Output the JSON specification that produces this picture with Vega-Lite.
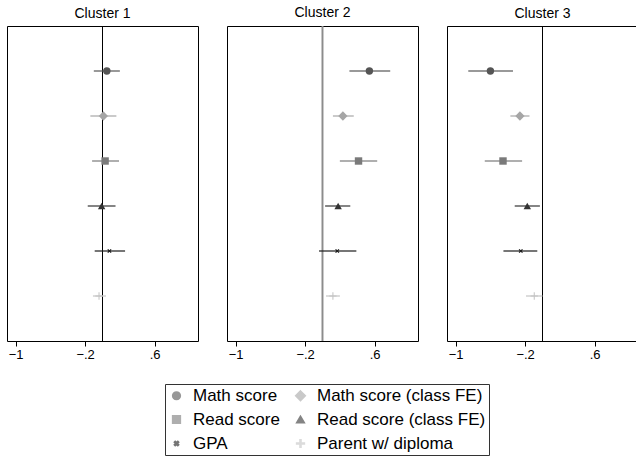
{
  "$schema": "https://vega.github.io/schema/vega-lite/v6.json",
  "padding": {"top": 5, "left": 6, "right": 0, "bottom": 0},
  "spacing": 27,
  "config": {
    "font": "Liberation Sans",
    "view": {"stroke": "#000", "strokeWidth": 1},
    "title": {"fontSize": 14, "fontWeight": "normal", "font": "Liberation Sans", "color": "#000", "offset": 5},
    "axisX": {
      "title": null,
      "labelExpr": "datum.value === 0 ? '0' : (datum.value < 0 ? '\u2212' : '') + replace(format(abs(datum.value), '~g'), '0.', '.')",
      "grid": false, "domain": false, "tickColor": "#000", "tickSize": 5,
      "labelColor": "#000", "labelFontSize": 13, "labelFont": "Liberation Sans",
      "labelOverlap": false, "labelFlush": false, "labelPadding": 2
    }
  },
  "data": {
    "values": [
      {"cluster": "Cluster 1", "variable": "Math score", "est": 0.05, "lo": -0.10, "hi": 0.20},
      {"cluster": "Cluster 1", "variable": "Math score (class FE)", "est": 0.01, "lo": -0.14, "hi": 0.16},
      {"cluster": "Cluster 1", "variable": "Read score", "est": 0.03, "lo": -0.12, "hi": 0.19},
      {"cluster": "Cluster 1", "variable": "Read score (class FE)", "est": -0.01, "lo": -0.17, "hi": 0.15},
      {"cluster": "Cluster 1", "variable": "GPA", "est": 0.08, "lo": -0.09, "hi": 0.26},
      {"cluster": "Cluster 1", "variable": "Parent w/ diploma", "est": -0.04, "lo": -0.11, "hi": 0.04},
      {"cluster": "Cluster 2", "variable": "Math score", "est": 0.54, "lo": 0.31, "hi": 0.78},
      {"cluster": "Cluster 2", "variable": "Math score (class FE)", "est": 0.235, "lo": 0.12, "hi": 0.36},
      {"cluster": "Cluster 2", "variable": "Read score", "est": 0.415, "lo": 0.20, "hi": 0.63},
      {"cluster": "Cluster 2", "variable": "Read score (class FE)", "est": 0.18, "lo": 0.03, "hi": 0.32},
      {"cluster": "Cluster 2", "variable": "GPA", "est": 0.17, "lo": -0.04, "hi": 0.39},
      {"cluster": "Cluster 2", "variable": "Parent w/ diploma", "est": 0.12, "lo": 0.04, "hi": 0.20},
      {"cluster": "Cluster 3", "variable": "Math score", "est": -0.60, "lo": -0.855, "hi": -0.34},
      {"cluster": "Cluster 3", "variable": "Math score (class FE)", "est": -0.26, "lo": -0.37, "hi": -0.15},
      {"cluster": "Cluster 3", "variable": "Read score", "est": -0.455, "lo": -0.665, "hi": -0.235},
      {"cluster": "Cluster 3", "variable": "Read score (class FE)", "est": -0.175, "lo": -0.32, "hi": -0.03},
      {"cluster": "Cluster 3", "variable": "GPA", "est": -0.25, "lo": -0.45, "hi": -0.06},
      {"cluster": "Cluster 3", "variable": "Parent w/ diploma", "est": -0.095, "lo": -0.19, "hi": 0.0}
    ]
  },
  "hconcat": [
    {
      "width": 191, "height": 315, "title": "Cluster 1",
      "transform": [{"filter": "datum.cluster === 'Cluster 1'"}],
      "layer": [
        {"mark": {"type": "rule", "color": "#000", "strokeWidth": 1}, "encoding": {"x": {"datum": 0}}},
        {
          "mark": {"type": "rule", "strokeWidth": 2, "opacity": 0.6},
          "encoding": {
            "x": {"field": "lo", "type": "quantitative", "scale": {"domain": [-1.1, 1.1], "nice": false, "zero": false},
              "axis": {"values": [-1, -0.8, -0.6, -0.4, -0.2, 0, 0.2, 0.4, 0.6, 0.8, 1], "labelOverlap": false, "labelFlush": false}},
            "x2": {"field": "hi"},
            "y": {"field": "variable", "type": "nominal", "scale": {"type": "point", "padding": 1, "domain": ["Math score", "Math score (class FE)", "Read score", "Read score (class FE)", "GPA", "Parent w/ diploma"]}, "axis": null},
            "color": {"field": "variable", "type": "nominal", "title": null}
          }
        },
        {
          "mark": {"type": "point", "filled": true, "opacity": 1, "size": 55},
          "encoding": {
            "x": {"field": "est", "type": "quantitative"},
            "y": {"field": "variable", "type": "nominal"},
            "color": {
              "field": "variable", "type": "nominal", "title": null,
              "scale": {
                "domain": ["Math score", "Math score (class FE)", "Read score", "Read score (class FE)", "GPA", "Parent w/ diploma"],
                "range": ["#555555", "#a6a6a6", "#7a7a7a", "#333333", "#1a1a1a", "#c4c4c4"]
              },
              "legend": {
                "orient": "none", "legendX": 158, "legendY": 358, "columns": 2, "direction": "horizontal",
                "strokeColor": "#333", "padding": 3, "labelFontSize": 17, "labelFont": "Liberation Sans",
                "labelColor": "#000", "symbolSize": 60, "labelOffset": 8, "rowPadding": 6, "columnPadding": 12,
                "labelLimit": 300, "symbolOpacity": 1
              }
            },
            "shape": {
              "field": "variable", "type": "nominal", "title": null,
              "scale": {
                "domain": ["Math score", "Math score (class FE)", "Read score", "Read score (class FE)", "GPA", "Parent w/ diploma"],
                "range": ["circle", "M0,-1.25L1.25,0L0,1.25L-1.25,0Z", "square", "triangle-up",
                  "M0.34,-0.57L0.57,-0.34L0.23,0L0.57,0.34L0.34,0.57L0,0.23L-0.34,0.57L-0.57,0.34L-0.23,0L-0.57,-0.34L-0.34,-0.57L0,-0.23Z",
                  "M-0.14,-1L0.14,-1L0.14,-0.14L1,-0.14L1,0.14L0.14,0.14L0.14,1L-0.14,1L-0.14,0.14L-1,0.14L-1,-0.14L-0.14,-0.14Z"]
              },
              "legend": {
                "orient": "none", "legendX": 158, "legendY": 358, "columns": 2, "direction": "horizontal",
                "strokeColor": "#333", "padding": 3, "labelFontSize": 17, "labelFont": "Liberation Sans",
                "labelColor": "#000", "symbolSize": 60, "labelOffset": 8, "rowPadding": 6, "columnPadding": 12,
                "labelLimit": 300, "symbolOpacity": 1
              }
            }
          }
        }
      ]
    },
    {
      "width": 191, "height": 315, "title": "Cluster 2",
      "transform": [{"filter": "datum.cluster === 'Cluster 2'"}],
      "layer": [
        {"mark": {"type": "rule", "color": "#8c8c8c", "strokeWidth": 1.2}, "encoding": {"x": {"datum": 0}}},
        {
          "mark": {"type": "rule", "strokeWidth": 2, "opacity": 0.6},
          "encoding": {
            "x": {"field": "lo", "type": "quantitative", "scale": {"domain": [-1.1, 1.1], "nice": false, "zero": false},
              "axis": {"values": [-1, -0.8, -0.6, -0.4, -0.2, 0, 0.2, 0.4, 0.6, 0.8, 1], "labelOverlap": false, "labelFlush": false}},
            "x2": {"field": "hi"},
            "y": {"field": "variable", "type": "nominal", "scale": {"type": "point", "padding": 1, "domain": ["Math score", "Math score (class FE)", "Read score", "Read score (class FE)", "GPA", "Parent w/ diploma"]}, "axis": null},
            "color": {"field": "variable", "type": "nominal", "title": null}
          }
        },
        {
          "mark": {"type": "point", "filled": true, "opacity": 1, "size": 55},
          "encoding": {
            "x": {"field": "est", "type": "quantitative"},
            "y": {"field": "variable", "type": "nominal"},
            "color": {"field": "variable", "type": "nominal", "title": null},
            "shape": {"field": "variable", "type": "nominal", "title": null}
          }
        }
      ]
    },
    {
      "width": 191, "height": 315, "title": "Cluster 3",
      "transform": [{"filter": "datum.cluster === 'Cluster 3'"}],
      "layer": [
        {"mark": {"type": "rule", "color": "#000", "strokeWidth": 1}, "encoding": {"x": {"datum": 0}}},
        {
          "mark": {"type": "rule", "strokeWidth": 2, "opacity": 0.6},
          "encoding": {
            "x": {"field": "lo", "type": "quantitative", "scale": {"domain": [-1.1, 1.1], "nice": false, "zero": false},
              "axis": {"values": [-1, -0.8, -0.6, -0.4, -0.2, 0, 0.2, 0.4, 0.6, 0.8, 1], "labelOverlap": false, "labelFlush": false}},
            "x2": {"field": "hi"},
            "y": {"field": "variable", "type": "nominal", "scale": {"type": "point", "padding": 1, "domain": ["Math score", "Math score (class FE)", "Read score", "Read score (class FE)", "GPA", "Parent w/ diploma"]}, "axis": null},
            "color": {"field": "variable", "type": "nominal", "title": null}
          }
        },
        {
          "mark": {"type": "point", "filled": true, "opacity": 1, "size": 55},
          "encoding": {
            "x": {"field": "est", "type": "quantitative"},
            "y": {"field": "variable", "type": "nominal"},
            "color": {"field": "variable", "type": "nominal", "title": null},
            "shape": {"field": "variable", "type": "nominal", "title": null}
          }
        }
      ]
    }
  ]
}
